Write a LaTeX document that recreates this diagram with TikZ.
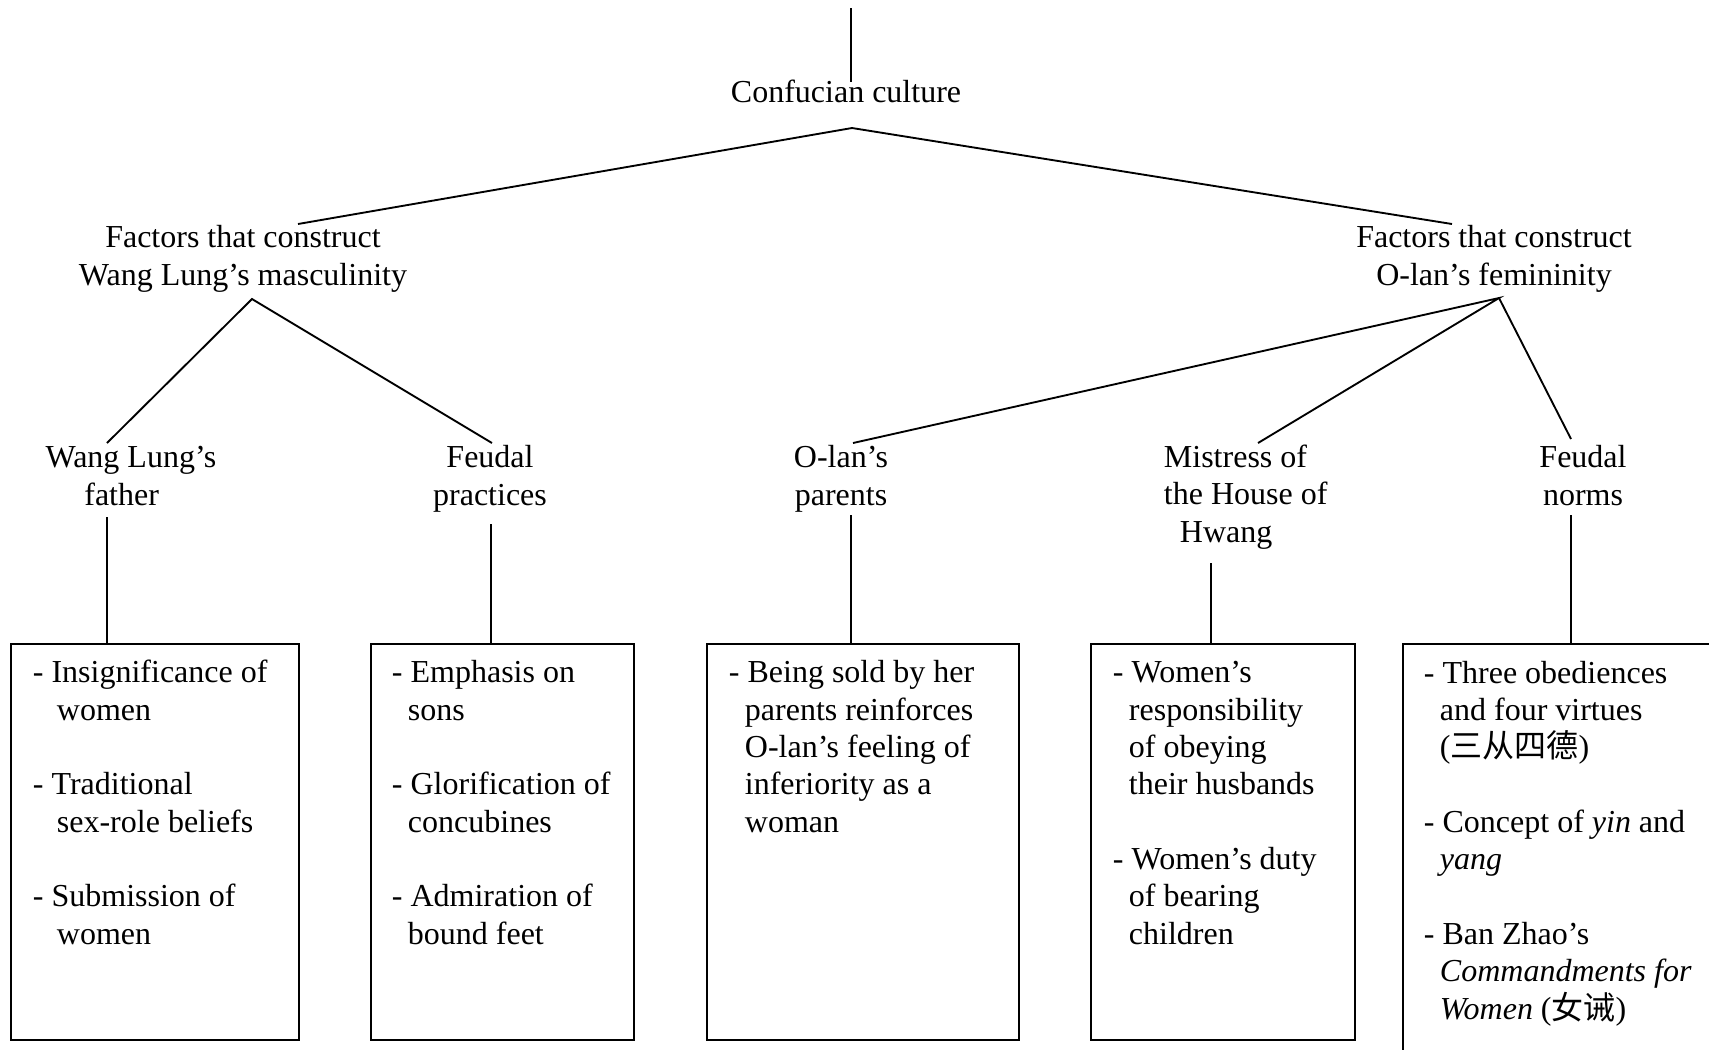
\documentclass[tikz,border=0pt]{standalone}
\usepackage{fontspec}
\setmainfont{Liberation Serif}
\newfontfamily\cjk{Noto Sans CJK SC}
\usetikzlibrary{positioning}
\newcommand{\contind}{\hspace*{6pt}}

\begin{document}
\begin{tikzpicture}[x=0.375pt,y=-0.375pt,line width=0.7pt,
  lbl/.style={align=center,inner sep=0pt,anchor=base,font=\fontsize{12}{14}\selectfont},
  txt/.style={align=left,inner sep=0pt,anchor=base west,font=\fontsize{12}{14}\selectfont},
  box/.style={draw,inner sep=0pt,outer sep=0pt,anchor=north west,minimum height=148.5pt}]

\useasboundingbox (0,0) rectangle (1709,1049);
\clip (0,0) rectangle (1709,1049);

% labels (placed by the baseline of their last line)
\node[lbl] (cc) at (846,102) {Confucian culture};
\node[lbl] (fm) at (243,285) {Factors that construct\\Wang Lung's masculinity};
\node[lbl] (ff) at (1494,285) {Factors that construct\\O-lan's femininity};

\node[lbl] (wf) at (131,505) {Wang Lung's\\father\hspace*{7pt}};
\node[lbl] (fp) at (490,505) {Feudal\\practices};
\node[lbl] (op) at (841,505) {O-lan's\\parents};
\node[txt] (mh) at (1163,542) {Mistress of\\the House of\\\contind Hwang};
\node[lbl] (fn) at (1583,505) {Feudal\\norms};

% boxes
\foreach \i/\x/\w in {1/11/288,2/371/263,3/707/312,4/1091/264}
  \node[box,minimum width=\w*0.375pt] (b\i) at (\x,644) {};
\node[box,minimum width=150pt,minimum height=170pt] (b5) at (1403,644) {};

\node[txt] (t1) at (32,944) {- Insignificance of\\\hspace*{9pt}women\\[14pt]- Traditional\\\hspace*{9pt}sex-role beliefs\\[14pt]- Submission of\\\hspace*{9pt}women};
\node[txt] (t2) at (391,944) {- Emphasis on\\\contind sons\\[14pt]- Glorification of\\\contind concubines\\[14pt]- Admiration of\\\contind bound feet};
\node[txt] (t3) at (728,832) {- Being sold by her\\\contind parents reinforces\\\contind O-lan's feeling of\\\contind inferiority as a\\\contind woman};
\node[txt] (t4) at (1112,944) {- Women's\\\contind responsibility\\\contind of obeying\\\contind their husbands\\[14pt]- Women's duty\\\contind of bearing\\\contind children};
\node[txt] (t5) at (1423,1019) {- Three obediences\\\contind and four virtues\\\contind ({\cjk 三从四德})\\[14pt]- Concept of \textit{yin} and\\\contind \textit{yang}\\[14pt]- Ban Zhao's\\\contind \textit{Commandments for}\\\contind \textit{Women} ({\cjk 女诫})};

% connector ends
\coordinate (cc-up) at (851,8);
\coordinate (cc-in) at (851,82);
\coordinate (cc-dn) at (852,128);
\coordinate (fm-up) at (298,224);
\coordinate (fm-dn) at (252,299);
\coordinate (ff-up) at (1452,224);
\coordinate (ff-dn) at (1499,298);
\coordinate (wf-up) at (107,443);
\coordinate (fp-up) at (492,443);
\coordinate (op-up) at (853,443);
\coordinate (mh-up) at (1258,443);
\coordinate (fn-up) at (1571,439);

\draw (cc-up) -- (cc-in);
\draw (fm-up) -- (cc-dn) -- (ff-up);
\draw (wf-up) -- (fm-dn) -- (fp-up);
\draw (op-up) -- (ff-dn) -- (mh-up);
\draw (ff-dn) -- (fn-up);

\foreach \i/\x/\y in {1/107/517,2/491/524,3/851/515,4/1211/563,5/1571/515}{
  \coordinate (v\i) at (\x,\y);
  \draw (v\i) -- (v\i |- b\i.north);
}

\end{tikzpicture}
\end{document}
